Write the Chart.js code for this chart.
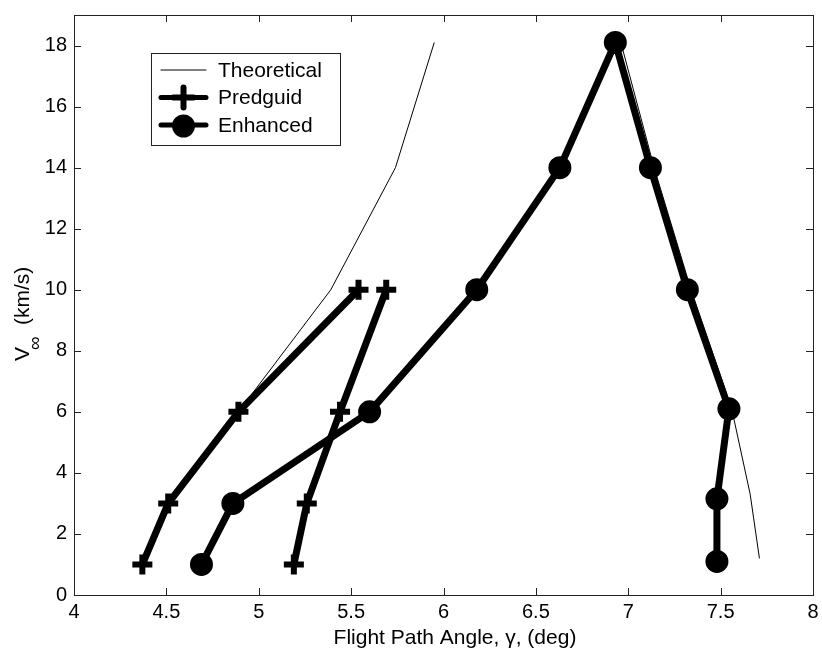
<!DOCTYPE html>
<html>
<head>
<meta charset="utf-8">
<script src="https://cdn.jsdelivr.net/npm/chart.js@4.4.1/dist/chart.umd.min.js"></script>
<style>
  html, body { margin: 0; padding: 0; background: #fff; }
</style>
</head>
<body>
<canvas id="chart" width="822" height="661"></canvas>
<script>

// axis ticks
const xTicks = [4, 4.5, 5, 5.5, 6, 6.5, 7, 7.5, 8];
const yTicks = [0, 2, 4, 6, 8, 10, 12, 14, 16, 18];

// Theoretical corridor (two branches)
const theoryLeftX = [4.37, 4.51, 4.89, 5.39, 5.74, 5.95];
const theoryLeftY = [1, 3, 6, 10, 14, 18.1];
const theoryRightX = [6.96, 7.14, 7.34, 7.56, 7.66, 7.71];
const theoryRightY = [18.1, 14, 10, 6.1, 3.3, 1.2];

// Predguid (two branches)
const predLeftX = [4.37, 4.51, 4.89, 5.54];
const predLeftY = [1, 3, 6, 10];
const predRightX = [5.19, 5.26, 5.44, 5.69];
const predRightY = [1, 3, 6, 10];

// Enhanced
const enhancedX = [4.69, 4.86, 5.60, 6.18, 6.63, 6.93, 7.12, 7.32, 7.545, 7.48, 7.48];
const enhancedY = [1, 3, 6, 10, 14, 18.1, 14, 10, 6.1, 3.15, 1.1];

const legendOrder = ['Theoretical', 'Predguid', 'Enhanced'];

const FONT = "'Liberation Sans', Arial, Helvetica, sans-serif";

function pts(xs, ys) {
  return xs.map((x, i) => ({x: x, y: ys[i]}));
}

const thick = {
  showLine: true,
  borderColor: '#000',
  borderWidth: 7,
  borderJoinStyle: 'round',
  borderCapStyle: 'round',
  pointBorderColor: '#000'
};

const plusStyle = Object.assign({}, thick, {
  pointStyle: 'cross',
  pointRadius: 10,
  pointBorderWidth: 6
});

const circleStyle = Object.assign({}, thick, {
  pointStyle: 'circle',
  pointRadius: 10,
  pointBorderWidth: 3,
  pointBackgroundColor: '#000'
});

const thinStyle = {
  showLine: true,
  borderColor: '#000',
  borderWidth: 1,
  pointRadius: 0
};

const data = {
  datasets: [
    Object.assign({label: 'Enhanced', data: pts(enhancedX, enhancedY)}, circleStyle),
    Object.assign({label: 'Predguid', data: pts(predLeftX, predLeftY)}, plusStyle),
    Object.assign({label: 'Predguid', legendSkip: true, data: pts(predRightX, predRightY)}, plusStyle),
    Object.assign({label: 'Theoretical', data: pts(theoryLeftX, theoryLeftY)}, thinStyle),
    Object.assign({label: 'Theoretical', legendSkip: true, data: pts(theoryRightX, theoryRightY)}, thinStyle)
  ]
};

// box, inward ticks, axis titles and legend, drawn like the original figure
const frame = {
  id: 'frame',
  afterDraw(chart) {
    const ctx = chart.ctx;
    const a = chart.chartArea;
    const xs = chart.scales.x;
    const ys = chart.scales.y;
    ctx.save();

    ctx.strokeStyle = '#222';
    ctx.lineWidth = 1;
    ctx.strokeRect(a.left + 0.5, a.top + 0.5, a.right - a.left, a.bottom - a.top);

    ctx.beginPath();
    xTicks.forEach(v => {
      const px = Math.round(xs.getPixelForValue(v)) + 0.5;
      ctx.moveTo(px, a.bottom); ctx.lineTo(px, a.bottom - 7);
      ctx.moveTo(px, a.top); ctx.lineTo(px, a.top + 7);
    });
    yTicks.forEach(v => {
      const py = Math.round(ys.getPixelForValue(v)) + 0.5;
      ctx.moveTo(a.left, py); ctx.lineTo(a.left + 7, py);
      ctx.moveTo(a.right, py); ctx.lineTo(a.right - 7, py);
    });
    ctx.stroke();

    // x title
    ctx.fillStyle = '#000';
    ctx.font = '21px ' + FONT;
    ctx.textAlign = 'center';
    ctx.textBaseline = 'middle';
    ctx.fillText('Flight Path Angle, \u03B3, (deg)', 455, 638);

    // y title, V with subscript infinity
    ctx.save();
    ctx.translate(23, 0);
    ctx.rotate(-Math.PI / 2);
    ctx.textAlign = 'left';
    ctx.font = '21px ' + FONT;
    ctx.fillText('V', -361, 0);
    ctx.font = '19px ' + FONT;
    ctx.fillText('\u221E', -350, 13);
    ctx.font = '21px ' + FONT;
    ctx.fillText('(km/s)', -325, 0);
    ctx.restore();

    // legend
    ctx.fillStyle = '#fff';
    ctx.fillRect(151, 53, 189, 92);
    ctx.strokeStyle = '#222';
    ctx.strokeRect(151.5, 53.5, 189, 92);
    legendOrder.forEach((name, i) => {
      const ds = chart.data.datasets.find(d => d.label === name && !d.legendSkip);
      const y = 70 + i * 27.5;
      ctx.strokeStyle = '#000';
      ctx.lineCap = 'round';
      ctx.lineWidth = ds.borderWidth > 1 ? 5 : 1;
      ctx.beginPath();
      ctx.moveTo(161, y); ctx.lineTo(206, y);
      ctx.stroke();
      if (ds.pointStyle === 'cross') {
        ctx.lineWidth = ds.pointBorderWidth;
        ctx.beginPath();
        ctx.moveTo(183.5 - ds.pointRadius, y); ctx.lineTo(183.5 + ds.pointRadius, y);
        ctx.moveTo(183.5, y - ds.pointRadius); ctx.lineTo(183.5, y + ds.pointRadius);
        ctx.stroke();
      } else if (ds.pointStyle === 'circle') {
        ctx.lineWidth = ds.pointBorderWidth;
        ctx.fillStyle = ds.pointBackgroundColor;
        ctx.beginPath();
        ctx.arc(183.5, y + 1, ds.pointRadius, 0, Math.PI * 2);
        ctx.fill();
        ctx.stroke();
      }
      ctx.fillStyle = '#000';
      ctx.font = '21px ' + FONT;
      ctx.textAlign = 'left';
      ctx.textBaseline = 'middle';
      ctx.fillText(name, 218, y + 1);
    });

    ctx.restore();
  }
};

const config = {
  type: 'scatter',
  data: data,
  options: {
    responsive: false,
    animation: false,
    layout: {
      autoPadding: false,
      padding: {top: 15, right: 9, left: 0, bottom: 0}
    },
    plugins: {
      legend: {display: false},
      tooltip: {enabled: false}
    },
    scales: {
      x: {
        type: 'linear',
        min: 4,
        max: 8,
        afterBuildTicks: axis => { axis.ticks = xTicks.map(v => ({value: v})); },
        afterFit: axis => {
          axis.height = 66;
          axis.paddingLeft = 0;
          axis.paddingRight = 0;
        },
        grid: {display: false, drawTicks: false},
        border: {display: false},
        ticks: {
          color: '#000',
          padding: 5,
          maxRotation: 0,
          callback: v => String(v),
          font: {family: FONT, size: 20}
        }
      },
      y: {
        type: 'linear',
        min: 0,
        max: 19,
        afterBuildTicks: axis => { axis.ticks = yTicks.map(v => ({value: v})); },
        afterFit: axis => {
          axis.width = 74;
          axis.paddingTop = 0;
          axis.paddingBottom = 0;
        },
        grid: {display: false, drawTicks: false},
        border: {display: false},
        ticks: {
          color: '#000',
          padding: 7,
          font: {family: FONT, size: 20}
        }
      }
    }
  },
  plugins: [frame]
};

var chart = new Chart(document.getElementById('chart'), config);

</script>
</body>
</html>
